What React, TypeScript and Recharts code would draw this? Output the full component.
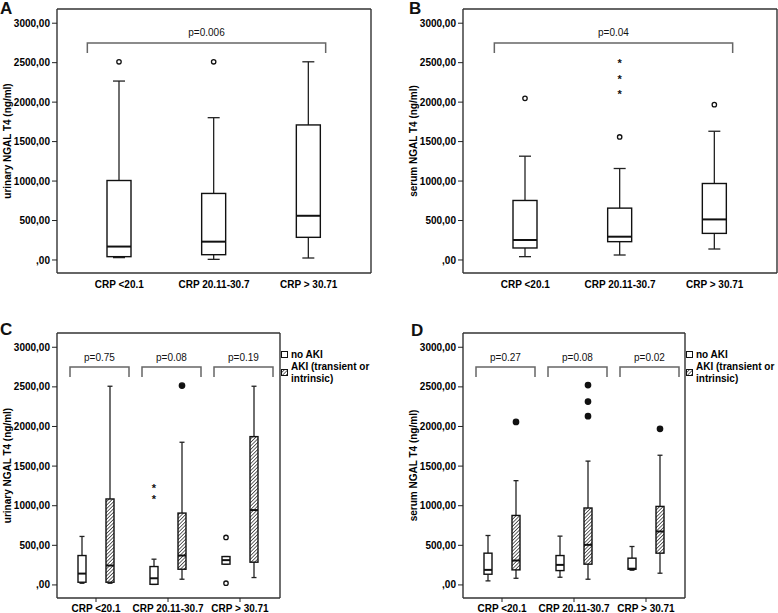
import React from 'react';
import { ComposedChart, Bar, XAxis, YAxis, ReferenceLine } from 'recharts';

const FONT = '"Liberation Sans", Arial, Helvetica, sans-serif';

const categories = ['CRP <20.1', 'CRP 20.11-30.7', 'CRP > 30.71'];
const yTicks = [0, 500, 1000, 1500, 2000, 2500, 3000];
const yDomain = [-165, 3180];

// box stats per CRP group: [lower whisker, Q1, median, Q3, upper whisker]
const urinaryAll = [[30, 42, 170, 1007, 2267], [8, 67, 232, 843, 1803], [25, 287, 560, 1711, 2511]];
const urinaryAllOut = [[2511], [2511], []];
const urinaryAllExt = [[], [], []];

const serumAll = [[42, 152, 253, 754, 1315], [63, 232, 295, 657, 1159], [139, 337, 514, 969, 1631]];
const serumAllOut = [[2048], [1559], [1968]];
const serumAllExt = [[], [2115, 2300, 2511], []];

const urinaryNoAki = [[21, 34, 143, 371, 612], [6, 8, 84, 232, 325], [262, 262, 313, 358, 358]];
const urinaryNoAkiOut = [[], [], [599, 22]];
const urinaryNoAkiExt = [[], [1097, 1236], []];
const urinaryAki = [[21, 34, 245, 1085, 2508], [72, 198, 371, 907, 1801], [93, 287, 945, 1872, 2508]];
const urinaryAkiOut = [[], [2516], []];
const urinaryAkiExt = [[], [], []];

const serumNoAki = [[51, 135, 190, 401, 624], [97, 181, 253, 371, 616], [186, 198, 205, 338, 485]];
const serumNoAkiOut = [[], [], []];
const serumNoAkiExt = [[], [], []];
const serumAki = [[84, 190, 308, 877, 1316], [72, 262, 506, 971, 1563], [148, 401, 675, 991, 1637]];
const serumAkiOut = [[2058], [2130, 2315, 2523], [1971]];
const serumAkiExt = [[], [], []];

const pAll = { urinary: 'p=0.006', serum: 'p=0.04' };
const pUrinaryGroups = ['p=0.75', 'p=0.08', 'p=0.19'];
const pSerumGroups = ['p=0.27', 'p=0.08', 'p=0.02'];

const tickFmt = (v: number) => (v === 0 ? ',00' : `${v},00`);
const tickStyle = { fontSize: 10, fontWeight: 700, fill: '#000', fontFamily: FONT };
const frameLine = { stroke: '#333', strokeWidth: 1.4 };

const boxShape = (key: string, hatchId: string | null, filled: boolean) => (props: any) => {
  const { x, y, width, height, payload } = props;
  const s = payload[key];
  const [lo, q1, med, q3, hi] = s.box;
  const top = Math.min(y, y + height);
  const bot = Math.max(y, y + height);
  const py = (v: number) => bot - ((bot - top) * (v - lo)) / (hi - lo);
  const cx = x + width / 2;
  const cap = Math.max(width * 0.5, 5);
  const st = '#222';
  return (
    <g>
      {hatchId && (
        <defs>
          <pattern id={hatchId} patternUnits="userSpaceOnUse" width={2.5} height={2.5} patternTransform="rotate(45)">
            <rect width={2.5} height={2.5} fill="#fff" />
            <line x1={0} y1={0} x2={0} y2={2.5} stroke="#111" strokeWidth={1.3} />
          </pattern>
        </defs>
      )}
      <line x1={cx} x2={cx} y1={py(hi)} y2={py(q3)} stroke={st} strokeWidth={1.3} />
      <line x1={cx} x2={cx} y1={py(q1)} y2={py(lo)} stroke={st} strokeWidth={1.3} />
      <line x1={cx - cap / 2} x2={cx + cap / 2} y1={py(hi)} y2={py(hi)} stroke={st} strokeWidth={1.3} />
      <line x1={cx - cap / 2} x2={cx + cap / 2} y1={py(lo)} y2={py(lo)} stroke={st} strokeWidth={1.3} />
      <rect x={x} y={py(q3)} width={width} height={Math.max(py(q1) - py(q3), 1)}
        fill={hatchId ? `url(#${hatchId})` : '#fff'} stroke="#111" strokeWidth={1.4} />
      <line x1={x} x2={x + width} y1={py(med)} y2={py(med)} stroke="#111" strokeWidth={2} />
      {s.out.map((v: number, i: number) => (
        <circle key={'o' + i} cx={cx} cy={py(v)} r={filled ? 2.7 : 2.2} fill={filled ? '#111' : '#fff'} stroke="#111" strokeWidth={1.3} />
      ))}
      {s.ext.map((v: number, i: number) => (
        <text key={'e' + i} x={cx} y={py(v)} dy={5} textAnchor="middle" fontSize={11} fontWeight={700} fill="#111" fontFamily={FONT}>*</text>
      ))}
    </g>
  );
};

const bracketShape = (label: string, dl: number, dr: number) => (props: any) => {
  const { x1, y1, x2 } = props;
  const a = x1 + dl;
  const b = x2 + dr;
  return (
    <g>
      <path d={`M${a},${y1 + 10} V${y1} H${b} V${y1 + 10}`} fill="none" stroke="#666" strokeWidth={1.5} />
      <text x={(a + b) / 2} y={y1 - 6.5} textAnchor="middle" fontSize={10} fill="#111" fontFamily={FONT}>{label}</text>
    </g>
  );
};

type Series = { key: string; boxes: number[][]; out: number[][]; ext: number[][]; hatch: string | null; filled: boolean };
type Bracket = { from: string; to: string; label: string; dl: number; dr: number };

function Panel(p: {
  left: number; top: number; width: number; height: number; marginTop: number; xHeight: number;
  padding: { left: number; right: number }; barSize: number; barGap: number; series: Series[];
  brackets: Bracket[]; yLabel: string; xTickSize: number; xTickMargin: number;
}) {
  const rows = categories.map((cat, i) => {
    const row: any = { cat };
    p.series.forEach((s) => {
      row[s.key] = { box: s.boxes[i], out: s.out[i], ext: s.ext[i] };
    });
    return row;
  });
  return (
    <div style={{ position: 'absolute', left: p.left, top: p.top }}>
      <ComposedChart width={p.width} height={p.height} data={rows} barGap={p.barGap}
        margin={{ top: p.marginTop - 1, right: 0, left: 0, bottom: 0 }}>
        <XAxis dataKey="cat" type="category" padding={p.padding} height={p.xHeight} axisLine={frameLine}
          tickLine={p.xTickSize > 0 ? { stroke: '#222' } : false} tickSize={p.xTickSize} tickMargin={p.xTickMargin}
          tick={tickStyle} interval={0} />
        <XAxis xAxisId="frameTop" orientation="top" dataKey="cat" type="category" height={1}
          axisLine={frameLine} tick={false} tickLine={false} />
        <YAxis type="number" domain={yDomain} ticks={yTicks} allowDataOverflow width={57} axisLine={frameLine}
          tickLine={{ stroke: '#222' }} tickSize={5} tickMargin={2} tickFormatter={tickFmt} tick={tickStyle}
          label={{ value: p.yLabel, angle: -90, position: 'insideLeft', offset: 7,
            style: { textAnchor: 'middle', fontSize: 10, fontWeight: 700, fill: '#000', fontFamily: FONT } }} />
        <YAxis yAxisId="frameRight" orientation="right" type="number" domain={yDomain} width={1}
          axisLine={frameLine} tick={false} tickLine={false} />
        {p.brackets.map((b, i) => (
          <ReferenceLine key={i} ifOverflow="visible" segment={[{ x: b.from, y: 2750 }, { x: b.to, y: 2750 }]}
            shape={bracketShape(b.label, b.dl, b.dr)} />
        ))}
        {p.series.map((s) => (
          <Bar key={s.key} dataKey={(d: any) => [d[s.key].box[0], d[s.key].box[4]]} barSize={p.barSize}
            shape={boxShape(s.key, s.hatch, s.filled)} isAnimationActive={false} />
        ))}
      </ComposedChart>
    </div>
  );
}

function HatchSwatch({ id }: { id: string }) {
  return (
    <svg width={7} height={7} style={{ display: 'block' }}>
      <defs>
        <pattern id={id} patternUnits="userSpaceOnUse" width={2.5} height={2.5} patternTransform="rotate(45)">
          <rect width={2.5} height={2.5} fill="#fff" />
          <line x1={0} y1={0} x2={0} y2={2.5} stroke="#111" strokeWidth={1.2} />
        </pattern>
      </defs>
      <rect x={0.5} y={0.5} width={6} height={6} fill={`url(#${id})`} stroke="#111" />
    </svg>
  );
}

function AkiLegend({ left, id }: { left: number; id: string }) {
  const txt = { position: 'absolute' as const, fontFamily: FONT, fontSize: 10, fontWeight: 700, color: '#000', lineHeight: '12px', whiteSpace: 'nowrap' as const };
  return (
    <>
      <svg width={7} height={7} style={{ position: 'absolute', left, top: 351 }}>
        <rect x={0.5} y={0.5} width={6} height={6} fill="#fff" stroke="#111" />
      </svg>
      <div style={{ ...txt, left: left + 10, top: 349 }}>no AKI</div>
      <div style={{ position: 'absolute', left, top: 369 }}><HatchSwatch id={id} /></div>
      <div style={{ ...txt, left: left + 10, top: 361 }}>AKI (transient or<br />intrinsic)</div>
    </>
  );
}

const letter = (t: string, left: number, top: number) => (
  <div style={{ position: 'absolute', left, top, fontFamily: FONT, fontWeight: 700, fontSize: 17, lineHeight: '17px', color: '#111' }}>{t}</div>
);

export default function App() {
  const allBox = (key: string, boxes: number[][], out: number[][], ext: number[][]): Series[] => [
    { key, boxes, out, ext, hatch: null, filled: false },
  ];
  const grouped = (pre: string, b0: number[][], o0: number[][], e0: number[][], b1: number[][], o1: number[][], e1: number[][]): Series[] => [
    { key: pre + 'No', boxes: b0, out: o0, ext: e0, hatch: null, filled: false },
    { key: pre + 'Aki', boxes: b1, out: o1, ext: e1, hatch: 'hatch-' + pre, filled: true },
  ];
  const groupBrackets = (labels: string[]): Bracket[] =>
    categories.map((c, i) => ({ from: c, to: c, label: labels[i], dl: -26, dr: 33 }));
  return (
    <div style={{ position: 'absolute', left: 0, top: 0, width: 778, height: 613, background: '#fff', overflow: 'hidden' }}>
      <Panel left={0} top={0} width={372} height={300} marginTop={9} xHeight={27}
        padding={{ left: 15, right: 15 }} barSize={24} barGap={4}
        series={allBox('uAll', urinaryAll, urinaryAllOut, urinaryAllExt)}
        brackets={[{ from: categories[0], to: categories[2], label: pAll.urinary, dl: -32, dr: 17 }]}
        yLabel="urinary NGAL T4 (ng/ml)" xTickSize={0} xTickMargin={8} />
      <Panel left={406} top={0} width={372} height={300} marginTop={9} xHeight={27}
        padding={{ left: 15, right: 15 }} barSize={24} barGap={4}
        series={allBox('sAll', serumAll, serumAllOut, serumAllExt)}
        brackets={[{ from: categories[0], to: categories[2], label: pAll.serum, dl: -31, dr: 18 }]}
        yLabel="serum NGAL T4 (ng/ml)" xTickSize={0} xTickMargin={8} />
      <Panel left={0} top={300} width={281} height={313} marginTop={33} xHeight={15}
        padding={{ left: 3, right: 4 }} barSize={8} barGap={20}
        series={grouped('u', urinaryNoAki, urinaryNoAkiOut, urinaryNoAkiExt, urinaryAki, urinaryAkiOut, urinaryAkiExt)}
        brackets={groupBrackets(pUrinaryGroups)}
        yLabel="urinary NGAL T4 (ng/ml)" xTickSize={4} xTickMargin={3} />
      <Panel left={406} top={300} width={280} height={313} marginTop={33} xHeight={15}
        padding={{ left: 3, right: 3 }} barSize={8} barGap={20}
        series={grouped('s', serumNoAki, serumNoAkiOut, serumNoAkiExt, serumAki, serumAkiOut, serumAkiExt)}
        brackets={groupBrackets(pSerumGroups)}
        yLabel="serum NGAL T4 (ng/ml)" xTickSize={4} xTickMargin={3} />
      <AkiLegend left={281} id="legend-hatch-c" />
      <AkiLegend left={686} id="legend-hatch-d" />
      {letter('A', 0, 0)}
      {letter('B', 409, 0)}
      {letter('C', 0, 321)}
      {letter('D', 411, 322)}
    </div>
  );
}
